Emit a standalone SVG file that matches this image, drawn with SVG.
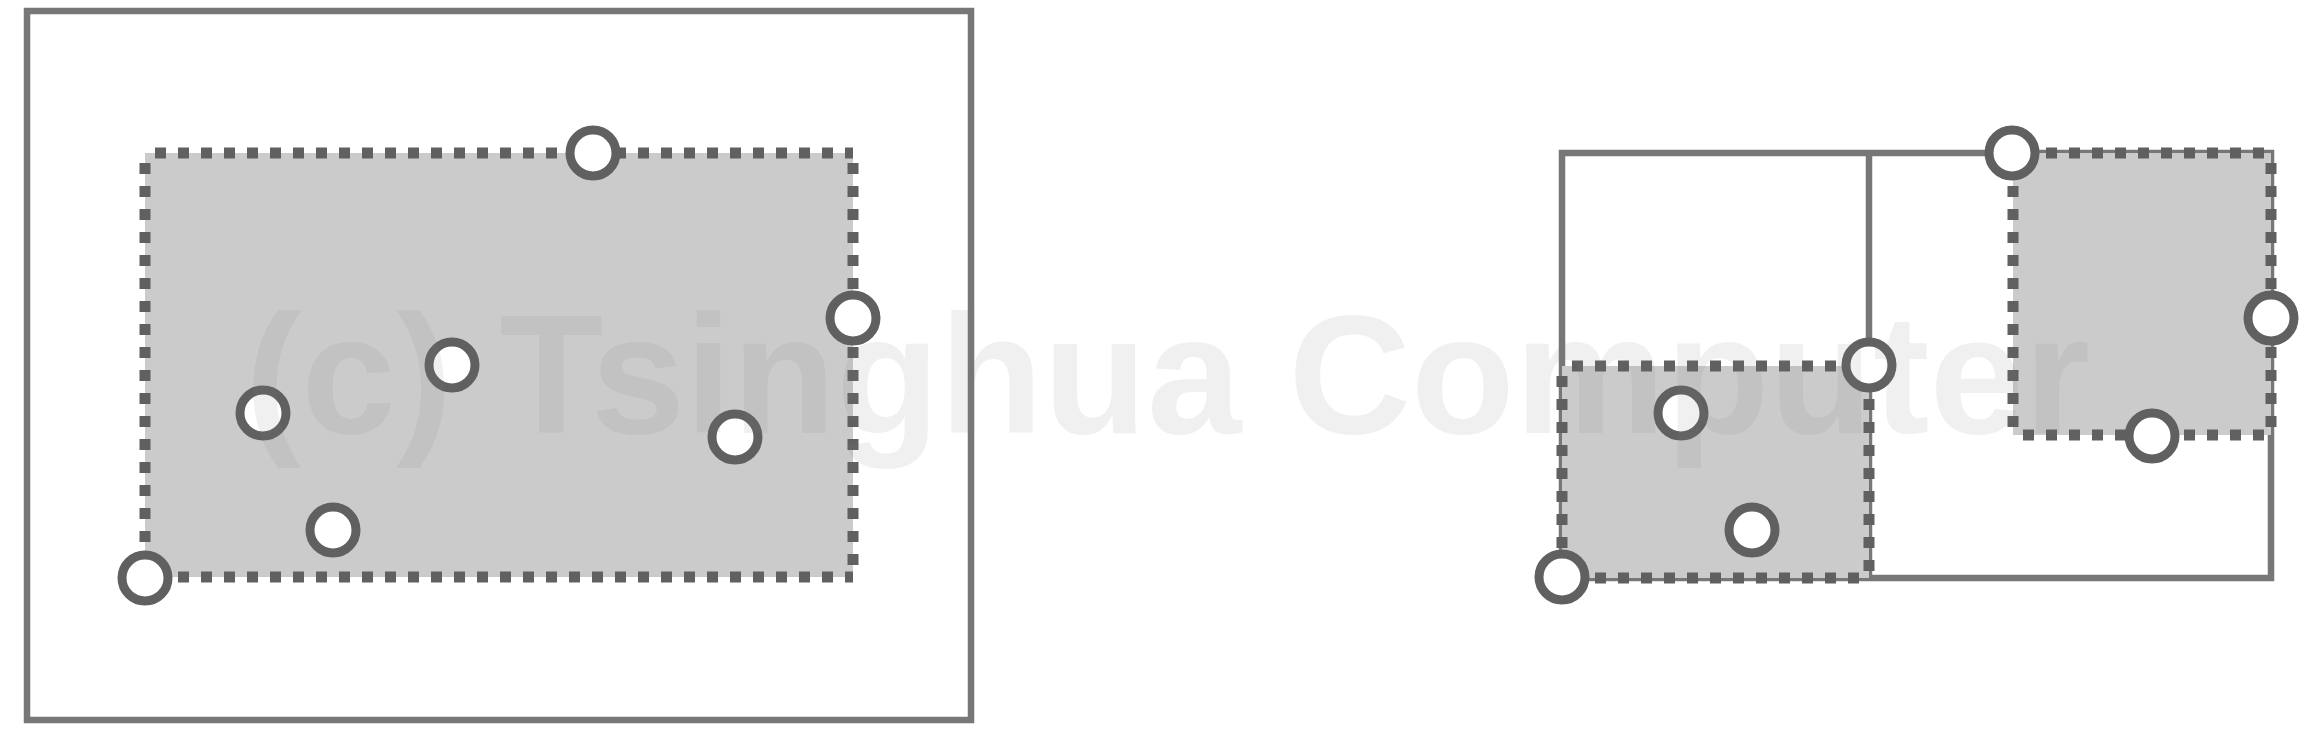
<svg xmlns="http://www.w3.org/2000/svg" width="2323" height="731" viewBox="0 0 2323 731">
<style>
.solid{fill:none;stroke:#777777;stroke-width:6.5}
.fill{fill:#cbcbcb;stroke:none}
.dot{fill:none;stroke:#606060;stroke-width:11;stroke-dasharray:11 12;stroke-dashoffset:13}
.pt{fill:#ffffff;stroke:#606060;stroke-width:9}
.wm{font-family:"Liberation Sans",Arial,sans-serif;font-weight:bold;font-size:169px;fill:#7d7d7d;fill-opacity:0.115}
</style>
<rect width="2323" height="731" fill="#ffffff"/>
<g id="left-diagram">
  <rect id="left-frame" class="solid" x="27" y="11" width="944" height="709"/>
  <g id="left-box">
    <rect class="fill" x="145" y="153" width="708" height="424"/>
    <line class="dot" x1="145" y1="153" x2="853" y2="153"/>
    <line class="dot" x1="145" y1="153" x2="145" y2="577"/>
    <line class="dot" x1="853" y1="153" x2="853" y2="577"/>
    <line class="dot" x1="145" y1="577" x2="853" y2="577"/>
  </g>
  <g id="left-points">
    <circle class="pt" cx="145" cy="578" r="23"/>
    <circle class="pt" cx="593" cy="153" r="23"/>
    <circle class="pt" cx="853" cy="318" r="23"/>
    <circle class="pt" cx="263" cy="413" r="23"/>
    <circle class="pt" cx="452" cy="365" r="23"/>
    <circle class="pt" cx="735" cy="437" r="23"/>
    <circle class="pt" cx="333" cy="530" r="23"/>
  </g>
</g>
<g id="right-diagram">
  <g id="right-frame">
    <rect class="solid" x="1562" y="153" width="709" height="425"/>
    <line class="solid" x1="1869" y1="153" x2="1869" y2="578"/>
  </g>
  <g id="right-box-low">
    <rect class="fill" x="1562" y="366" width="307" height="212"/>
    <line class="dot" x1="1562" y1="366" x2="1869" y2="366"/>
    <line class="dot" x1="1562" y1="366" x2="1562" y2="578"/>
    <line class="dot" x1="1869" y1="366" x2="1869" y2="578"/>
    <line class="dot" x1="1562" y1="578" x2="1869" y2="578"/>
  </g>
  <g id="right-box-high">
    <rect class="fill" x="2013" y="153" width="258" height="282"/>
    <line class="dot" x1="2013" y1="153" x2="2271" y2="153"/>
    <line class="dot" x1="2013" y1="153" x2="2013" y2="435"/>
    <line class="dot" x1="2271" y1="153" x2="2271" y2="435"/>
    <line class="dot" x1="2013" y1="435" x2="2271" y2="435"/>
  </g>
  <g id="right-points">
    <circle class="pt" cx="2012" cy="153" r="23"/>
    <circle class="pt" cx="1869" cy="365" r="23"/>
    <circle class="pt" cx="2271" cy="318" r="23"/>
    <circle class="pt" cx="2152" cy="436" r="23"/>
    <circle class="pt" cx="1562" cy="577" r="23"/>
    <circle class="pt" cx="1681" cy="413" r="23"/>
    <circle class="pt" cx="1752" cy="530" r="23"/>
  </g>
</g>
<text class="wm" x="245" y="433" textLength="1845" lengthAdjust="spacingAndGlyphs">(c) Tsinghua Computer</text>
</svg>
